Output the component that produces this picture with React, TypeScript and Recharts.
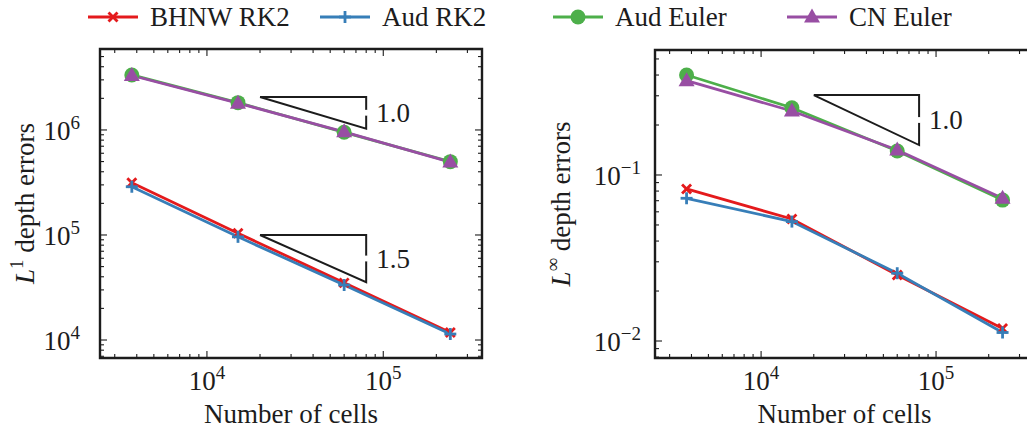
import React from "react";
import { LineChart, Line, XAxis, YAxis, Legend, ReferenceArea, LabelList, Label } from "recharts";

// number of cells (x) for every run
const CELLS = [3750, 15000, 60000, 240000];

// L1 depth errors
const L1_BHNW_RK2 = [3.15e5, 1.04e5, 3.5e4, 1.18e4];
const L1_AUD_RK2 = [2.88e5, 9.6e4, 3.34e4, 1.14e4];
const L1_AUD_EULER = [3.34e6, 1.82e6, 9.5e5, 4.99e5];
const L1_CN_EULER = [3.3e6, 1.8e6, 9.6e5, 4.95e5];

// Linf depth errors
const LINF_BHNW_RK2 = [0.0824, 0.0543, 0.025, 0.0119];
const LINF_AUD_RK2 = [0.0724, 0.0524, 0.0256, 0.01125];
const LINF_AUD_EULER = [0.4, 0.254, 0.1395, 0.0706];
const LINF_CN_EULER = [0.37, 0.243, 0.1415, 0.0724];

// slope triangles: x span, y at the top and bottom of the vertical leg, label
const SLOPE_X = [2e4, 8e4];
const L1_SLOPES = [
    { top: 2.06e6, bottom: 1.03e6, text: "1.0" },
    { top: 1e5, bottom: 3.55e4, text: "1.5" },
];
const LINF_SLOPES = [{ top: 0.303, bottom: 0.1515, text: "1.0" }];

const X_DOMAIN = [2475, 363000];
const L1_DOMAIN = [6740, 5.9e6];
const LINF_DOMAIN = [0.0079, 0.566];

const SERIES = [
    { key: "bhnw", name: "BHNW RK2", color: "#e41a1c", marker: "x" },
    { key: "aud", name: "Aud RK2", color: "#377eb8", marker: "plus" },
    { key: "audEuler", name: "Aud Euler", color: "#4daf4a", marker: "circle" },
    { key: "cn", name: "CN Euler", color: "#984ea3", marker: "triangle" },
];
const LEGEND_X = [88, 320, 553, 787];

const FONT = '"Liberation Serif", "DejaVu Serif", "Noto Serif", serif';
const INK = "#1c1c1c";

const l1Data = CELLS.map((n, i) => ({
    n,
    bhnw: L1_BHNW_RK2[i],
    aud: L1_AUD_RK2[i],
    audEuler: L1_AUD_EULER[i],
    cn: L1_CN_EULER[i],
}));
const linfData = CELLS.map((n, i) => ({
    n,
    bhnw: LINF_BHNW_RK2[i],
    aud: LINF_AUD_RK2[i],
    audEuler: LINF_AUD_EULER[i],
    cn: LINF_CN_EULER[i],
}));

const triangle = (s: { top: number; bottom: number }) => [
    { n: SLOPE_X[0], v: s.top },
    { n: SLOPE_X[1], v: s.top },
    { n: SLOPE_X[1], v: s.bottom },
    { n: SLOPE_X[0], v: s.top },
];

// decade + minor ticks inside a domain
function logTicks(lo: number, hi: number) {
    const out: number[] = [];
    for (let e = Math.floor(Math.log10(lo)); e <= Math.ceil(Math.log10(hi)); e++) {
        for (let m = 1; m < 10; m++) {
            const v = parseFloat((m * Math.pow(10, e)).toPrecision(6));
            if (v >= lo && v <= hi) out.push(v);
        }
    }
    return out;
}
const isMajor = (v: number) => {
    const l = Math.log10(v);
    return Math.abs(l - Math.round(l)) < 1e-6;
};
const expText = (v: number) => {
    const e = Math.round(Math.log10(v));
    return e < 0 ? `\u2212${-e}` : `${e}`;
};

function Pow10({ x, y, v, anchor }: any) {
    return (
        <text x={x} y={y} textAnchor={anchor} style={{ fontFamily: FONT }} fontSize={27} fill={INK}>
            10
            <tspan dy={-11} fontSize={19}>
                {expText(v)}
            </tspan>
        </text>
    );
}

const makeXTick = (top: number) => (p: any) => {
    const { x, y, payload } = p;
    const major = isMajor(payload.value);
    const len = major ? 7 : 4;
    return (
        <g key={`xt-${payload.value}`}>
            <line x1={x} x2={x} y1={y} y2={y - len} stroke={INK} strokeWidth={1.1} />
            <line x1={x} x2={x} y1={top} y2={top + len} stroke={INK} strokeWidth={1.1} />
            {major && <Pow10 x={x} y={y + 32} v={payload.value} anchor="middle" />}
        </g>
    );
};

const makeYTick = (right: number, pad: number) => (p: any) => {
    const { x, y, payload } = p;
    const major = isMajor(payload.value);
    const len = major ? 7 : 4;
    return (
        <g key={`yt-${payload.value}`}>
            <line x1={x} x2={x + len} y1={y} y2={y} stroke={INK} strokeWidth={1.1} />
            <line x1={right} x2={right - len} y1={y} y2={y} stroke={INK} strokeWidth={1.1} />
            {major && <Pow10 x={x - pad} y={y + 10} v={payload.value} anchor="end" />}
        </g>
    );
};

function Marker({ kind, cx, cy, color }: any) {
    if (kind === "x") {
        const h = 4.5;
        return (
            <g stroke={color} strokeWidth={2.8}>
                <line x1={cx - h} y1={cy - h} x2={cx + h} y2={cy + h} />
                <line x1={cx - h} y1={cy + h} x2={cx + h} y2={cy - h} />
            </g>
        );
    }
    if (kind === "plus") {
        const h = 6;
        return (
            <g stroke={color} strokeWidth={2.8}>
                <line x1={cx - h} y1={cy} x2={cx + h} y2={cy} />
                <line x1={cx} y1={cy - h} x2={cx} y2={cy + h} />
            </g>
        );
    }
    if (kind === "circle") return <circle cx={cx} cy={cy} r={7.5} fill={color} />;
    return (
        <polygon
            points={`${cx},${cy - 8.5} ${cx - 8},${cy + 5.5} ${cx + 8},${cy + 5.5}`}
            fill={color}
        />
    );
}

const LegendContent = () => (
    <div style={{ position: "relative", width: 1027, height: 34 }}>
        {SERIES.map((s, i) => (
            <div
                key={s.key}
                style={{
                    position: "absolute",
                    left: LEGEND_X[i],
                    top: 0,
                    height: 34,
                    display: "flex",
                    alignItems: "center",
                    whiteSpace: "nowrap",
                }}
            >
                <svg width={50} height={34}>
                    <line x1={0} x2={50} y1={17} y2={17} stroke={s.color} strokeWidth={3} />
                    <Marker kind={s.marker} cx={25} cy={17} color={s.color} />
                </svg>
                <span style={{ marginLeft: 12, fontFamily: FONT, fontSize: 27, color: INK, lineHeight: "34px" }}>
                    {s.name}
                </span>
            </div>
        ))}
    </div>
);

const slopeLabel = (p: any) => {
    const { x, y, value } = p;
    return (
        <text x={x + 10} y={y + 9} style={{ fontFamily: FONT }} fontSize={27} fill={INK}>
            {value}
        </text>
    );
};

// axes for one panel (log x, log y, inward ticks on all four sides)
function panelAxes({ yDomain, yLabel, yWidth, frameTop, frameRight, tickPad, labelX }: any) {
    return [
        <XAxis
            key="x"
            dataKey="n"
            type="number"
            scale="log"
            domain={X_DOMAIN}
            allowDataOverflow
            ticks={logTicks(X_DOMAIN[0], X_DOMAIN[1])}
            interval={0}
            tick={makeXTick(frameTop)}
            tickLine={false}
            axisLine={false}
            tickSize={0}
            tickMargin={0}
            height={73}
        >
            <Label
                content={({ viewBox }: any) => (
                    <text
                        x={viewBox.x + viewBox.width / 2}
                        y={423}
                        textAnchor="middle"
                        style={{ fontFamily: FONT }}
                        fontSize={27}
                        fill={INK}
                    >
                        Number of cells
                    </text>
                )}
            />
        </XAxis>,
        <YAxis
            key="y"
            type="number"
            scale="log"
            domain={yDomain}
            allowDataOverflow
            width={yWidth}
            ticks={logTicks(yDomain[0], yDomain[1])}
            interval={0}
            tick={makeYTick(frameRight, tickPad)}
            tickLine={false}
            axisLine={false}
            tickSize={0}
            tickMargin={0}
        >
            <Label
                content={({ viewBox }: any) => {
                    const cy = viewBox.y + viewBox.height / 2;
                    return (
                        <text
                            transform={`translate(${labelX},${cy}) rotate(-90)`}
                            textAnchor="middle"
                            style={{ fontFamily: FONT }}
                            fontSize={27}
                            fill={INK}
                        >
                            <tspan fontStyle="italic">L</tspan>
                            <tspan dy={-11} fontSize={19}>
                                {yLabel}
                            </tspan>
                            <tspan dy={11}> depth errors</tspan>
                        </text>
                    );
                }}
            />
        </YAxis>,
        <ReferenceArea
            key="frame"
            x1={X_DOMAIN[0]}
            x2={X_DOMAIN[1]}
            y1={yDomain[0]}
            y2={yDomain[1]}
            fill="none"
            stroke={INK}
            strokeWidth={2.4}
            ifOverflow="visible"
        />,
    ];
}

function panelLines(slopes: any[]) {
    return [
        ...SERIES.map((s) => (
            <Line
                key={s.key}
                dataKey={s.key}
                name={s.name}
                stroke={s.color}
                strokeWidth={2.8}
                isAnimationActive={false}
                dot={(p: any) => (
                    <Marker key={`${s.key}-${p.index}`} kind={s.marker} cx={p.cx} cy={p.cy} color={s.color} />
                )}
                activeDot={false}
            />
        )),
        ...slopes.map((sl, i) => (
            <Line
                key={`tri-${i}`}
                data={triangle(sl)}
                dataKey="v"
                stroke={INK}
                strokeWidth={2}
                dot={false}
                activeDot={false}
                legendType="none"
                isAnimationActive={false}
            />
        )),
        ...slopes.map((sl, i) => (
            <Line
                key={`lab-${i}`}
                data={[{ n: SLOPE_X[1], v: Math.sqrt(sl.top * sl.bottom), t: sl.text }]}
                dataKey="v"
                stroke="none"
                dot={false}
                activeDot={false}
                legendType="none"
                isAnimationActive={false}
            >
                <LabelList dataKey="t" content={slopeLabel} />
            </Line>
        )),
    ];
}

export default function App() {
    return (
        <div
            style={{
                position: "absolute",
                left: 0,
                top: 0,
                width: 1027,
                height: 431,
                overflow: "hidden",
                background: "#fff",
            }}
        >
            <div style={{ position: "absolute", left: 0, top: 0 }}>
                <LineChart width={1027} height={431} data={l1Data} margin={{ top: 15, right: 545, bottom: 0, left: 0 }}>
                    {panelAxes({
                        yDomain: L1_DOMAIN,
                        yLabel: "1",
                        yWidth: 100,
                        frameTop: 49,
                        frameRight: 482,
                        tickPad: 20,
                        labelX: 34,
                    })}
                    <Legend
                        verticalAlign="top"
                        content={LegendContent}
                        wrapperStyle={{ top: 0, left: 0, width: 1027, height: 34, margin: 0 }}
                    />
                    {panelLines(L1_SLOPES)}
                </LineChart>
            </div>
            <div style={{ position: "absolute", left: 540, top: 0 }}>
                <LineChart width={500} height={431} data={linfData} margin={{ top: 50, right: 6, bottom: 0, left: 0 }}>
                    {panelAxes({
                        yDomain: LINF_DOMAIN,
                        yLabel: "\u221E",
                        yWidth: 115,
                        frameTop: 50,
                        frameRight: 494,
                        tickPad: 14,
                        labelX: 30,
                    })}
                    {panelLines(LINF_SLOPES)}
                </LineChart>
            </div>
        </div>
    );
}
